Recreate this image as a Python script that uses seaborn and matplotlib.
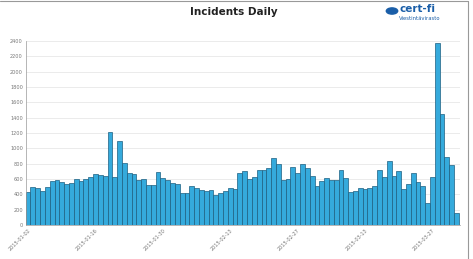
import numpy as np
import pandas as pd
import matplotlib
matplotlib.use("Agg")
import matplotlib.pyplot as plt
import seaborn as sns
from matplotlib.patches import Circle

sns.set_theme(style="white")
plt.rcParams['font.family'] = ['DejaVu Sans']

start_date = "2015-01-02"
incidents = [426, 500, 487,
             448, 495, 569, 582, 561, 535, 543, 595, 574, 595, 626, 660, 647, 639,
             1208, 626, 1095, 813, 682, 660, 582, 595, 517, 521, 687, 608, 591, 543,
             530, 417, 413, 504, 478, 456, 443, 456, 387, 421, 448, 478, 465, 682, 704,
             595, 626, 721, 713, 743, 878, 800, 582, 595, 761, 682, 800, 743, 635, 508,
             569, 608, 591, 591, 717, 608, 435, 439, 486, 469, 478, 508, 713, 626, 839,
             635, 704, 469, 535, 682, 556, 513, 287, 626, 2373, 1452, 887, 778, 152]
dates = pd.date_range(start_date, periods=len(incidents), freq="D").strftime("%Y-%m-%d").tolist()
yticks = list(range(0, 2401, 200))
title = "Incidents Daily"

df = pd.DataFrame({"date": dates, "count": incidents})

fig = plt.figure(figsize=(4.73, 2.59), dpi=100)
ax = fig.add_axes([0.0543, 0.1313, 0.918, 0.7104])

sns.barplot(data=df, x="date", y="count", ax=ax, color="#35aadc",
            saturation=1, width=1.0, edgecolor="#1d5f80", linewidth=0.5)

ax.set_ylim(0, 2400)
ax.set_xlim(-0.5, len(incidents) - 0.3)
ax.set_yticks(yticks)
ax.set_yticklabels([str(v) for v in yticks], fontsize=3.6, color="#777777")
ticks = list(range(0, len(incidents), 14))
ax.set_xticks(ticks)
ax.set_xticklabels([dates[i] for i in ticks], rotation=45, ha="right",
                   rotation_mode="anchor", fontsize=3.6, color="#777777")
ax.tick_params(axis="both", length=0, pad=2)
ax.set_xlabel("")
ax.set_ylabel("")
ax.yaxis.grid(True, color="#e8e8e8", linewidth=0.6)
ax.set_axisbelow(True)
for s in ["top", "right"]:
    ax.spines[s].set_visible(False)
for s in ["left", "bottom"]:
    ax.spines[s].set_color("#999999")
    ax.spines[s].set_linewidth(0.5)

fig.text(0.495, 0.955, title, ha="center", va="center", fontsize=7.5,
         fontweight="bold", color="#222222")
# logo
fig.patches.append(Circle((392/473, 1 - 11/259), 0.012, transform=fig.transFigure,
                          color="#1a5ea8", zorder=5))
fig.text(399/473, 1 - 9/259, "cert-fi", ha="left", va="center", fontsize=7.5,
         fontweight="bold", color="#1a5ea8")
fig.text(399/473, 1 - 19/259, "Viestintävirasto", ha="left", va="center",
         fontsize=3.8, color="#1a5ea8")

# frame lines top & right
fig.add_artist(plt.Line2D([0, 468/473], [0.997, 0.997], transform=fig.transFigure,
                          color="#999999", linewidth=0.8))
fig.add_artist(plt.Line2D([468/473, 468/473], [0, 0.997], transform=fig.transFigure,
                          color="#999999", linewidth=0.8))

fig.savefig("out.png", dpi=100)
